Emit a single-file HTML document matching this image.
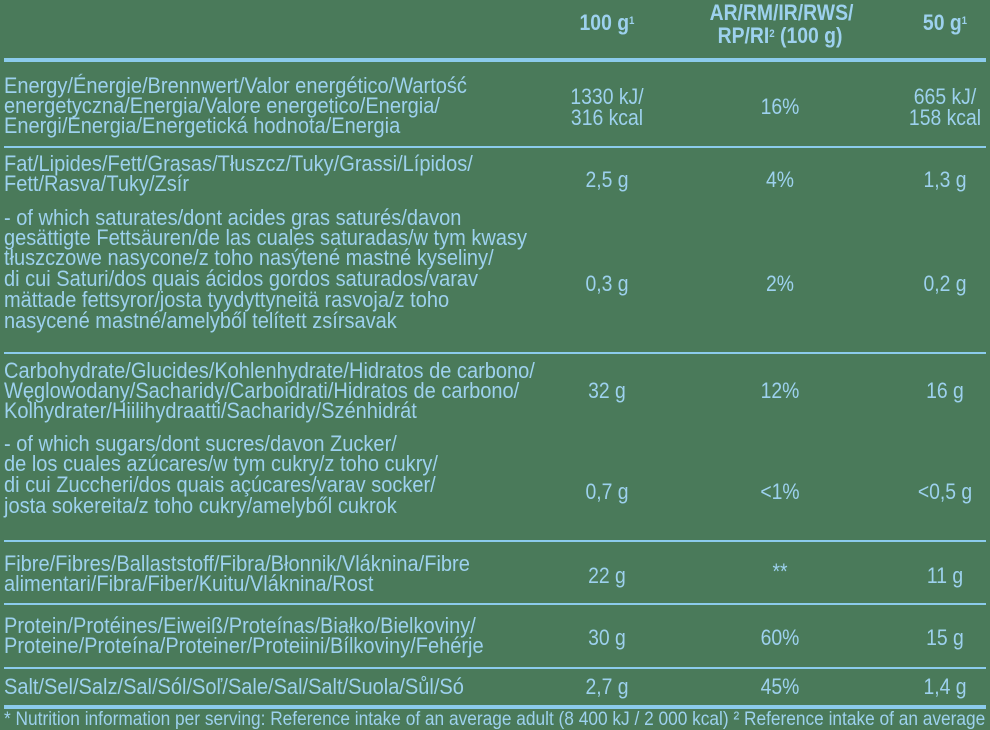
<!DOCTYPE html>
<html><head><meta charset="utf-8"><style>
body{margin:0;width:990px;height:719px;background:#4a7a5a;overflow:hidden;position:relative;font-family:"Liberation Sans Narrow","Liberation Sans",sans-serif;color:#9dd1ee;font-size:22px}
.l{position:absolute;left:4px;line-height:20px;white-space:nowrap;transform:scaleX(0.91);transform-origin:0 50%}
.c{position:absolute;line-height:20px;white-space:nowrap;text-align:center;width:160px;transform:scaleX(0.88)}
.c1{left:527px}.c2{left:700px}.c3{left:857px}
.h{font-weight:bold}
.r{position:absolute;left:4px;width:982px;background:#8ccbec}
sup{font-size:11px;vertical-align:top;position:relative;top:-2px}
</style></head><body>
<div class="c c1 h" style="top:13px">100 g<sup>1</sup></div>
<div class="c c2 h" style="top:3px">AR/RM/IR/RWS/</div>
<div class="c c2 h" style="top:26px">RP/RI<sup>2</sup> (100 g)</div>
<div class="c c3 h" style="top:13px;left:865px">50 g<sup>1</sup></div>
<div class="r" style="top:58px;height:4px"></div>

<div class="l" style="top:76px">Energy/Énergie/Brennwert/Valor energético/Wartość</div>
<div class="l" style="top:96px">energetyczna/Energia/Valore energetico/Energia/</div>
<div class="l" style="top:116px">Energi/Energia/Energetická hodnota/Energia</div>
<div class="c c1" style="top:87px">1330 kJ/</div>
<div class="c c1" style="top:108px">316 kcal</div>
<div class="c c2" style="top:97px">16%</div>
<div class="c c3" style="top:87px;left:865px">665 kJ/</div>
<div class="c c3" style="top:108px;left:865px">158 kcal</div>
<div class="r" style="top:146px;height:2px"></div>

<div class="l" style="top:154px">Fat/Lipides/Fett/Grasas/Tłuszcz/Tuky/Grassi/Lípidos/</div>
<div class="l" style="top:174px">Fett/Rasva/Tuky/Zsír</div>
<div class="c c1" style="top:170px">2,5 g</div>
<div class="c c2" style="top:170px">4%</div>
<div class="c c3" style="top:170px;left:865px">1,3 g</div>
<div class="l" style="top:208px">- of which saturates/dont acides gras saturés/davon</div>
<div class="l" style="top:228px">gesättigte Fettsäuren/de las cuales saturadas/w tym kwasy</div>
<div class="l" style="top:248px">tłuszczowe nasycone/z toho nasýtené mastné kyseliny/</div>
<div class="l" style="top:269px">di cui Saturi/dos quais ácidos gordos saturados/varav</div>
<div class="l" style="top:290px">mättade fettsyror/josta tyydyttyneitä rasvoja/z toho</div>
<div class="l" style="top:311px">nasycené mastné/amelyből telített zsírsavak</div>
<div class="c c1" style="top:274px">0,3 g</div>
<div class="c c2" style="top:274px">2%</div>
<div class="c c3" style="top:274px;left:865px">0,2 g</div>
<div class="r" style="top:352px;height:2px"></div>

<div class="l" style="top:361px">Carbohydrate/Glucides/Kohlenhydrate/Hidratos de carbono/</div>
<div class="l" style="top:381px">Węglowodany/Sacharidy/Carboidrati/Hidratos de carbono/</div>
<div class="l" style="top:401px">Kolhydrater/Hiilihydraatti/Sacharidy/Szénhidrát</div>
<div class="c c1" style="top:381px">32 g</div>
<div class="c c2" style="top:381px">12%</div>
<div class="c c3" style="top:381px;left:865px">16 g</div>
<div class="l" style="top:434px">- of which sugars/dont sucres/davon Zucker/</div>
<div class="l" style="top:454px">de los cuales azúcares/w tym cukry/z toho cukry/</div>
<div class="l" style="top:475px">di cui Zuccheri/dos quais açúcares/varav socker/</div>
<div class="l" style="top:496px">josta sokereita/z toho cukry/amelyből cukrok</div>
<div class="c c1" style="top:482px">0,7 g</div>
<div class="c c2" style="top:482px">&lt;1%</div>
<div class="c c3" style="top:482px;left:865px">&lt;0,5 g</div>
<div class="r" style="top:540px;height:2px"></div>

<div class="l" style="top:554px">Fibre/Fibres/Ballaststoff/Fibra/Błonnik/Vláknina/Fibre</div>
<div class="l" style="top:574px">alimentari/Fibra/Fiber/Kuitu/Vláknina/Rost</div>
<div class="c c1" style="top:566px">22 g</div>
<div class="c c2" style="top:562px">**</div>
<div class="c c3" style="top:566px;left:865px">11 g</div>
<div class="r" style="top:603px;height:2px"></div>

<div class="l" style="top:616px">Protein/Protéines/Eiweiß/Proteínas/Białko/Bielkoviny/</div>
<div class="l" style="top:636px">Proteine/Proteína/Proteiner/Proteiini/Bílkoviny/Fehérje</div>
<div class="c c1" style="top:628px">30 g</div>
<div class="c c2" style="top:628px">60%</div>
<div class="c c3" style="top:628px;left:865px">15 g</div>
<div class="r" style="top:667px;height:2px"></div>

<div class="l" style="top:677px">Salt/Sel/Salz/Sal/Sól/Soľ/Sale/Sal/Salt/Suola/Sůl/Só</div>
<div class="c c1" style="top:677px">2,7 g</div>
<div class="c c2" style="top:677px">45%</div>
<div class="c c3" style="top:677px;left:865px">1,4 g</div>
<div class="r" style="top:705px;height:4px"></div>
<div class="l" style="top:710px;font-size:19px">* Nutrition information per serving: Reference intake of an average adult (8 400 kJ / 2 000 kcal) ² Reference intake of an average</div>
</body></html>
